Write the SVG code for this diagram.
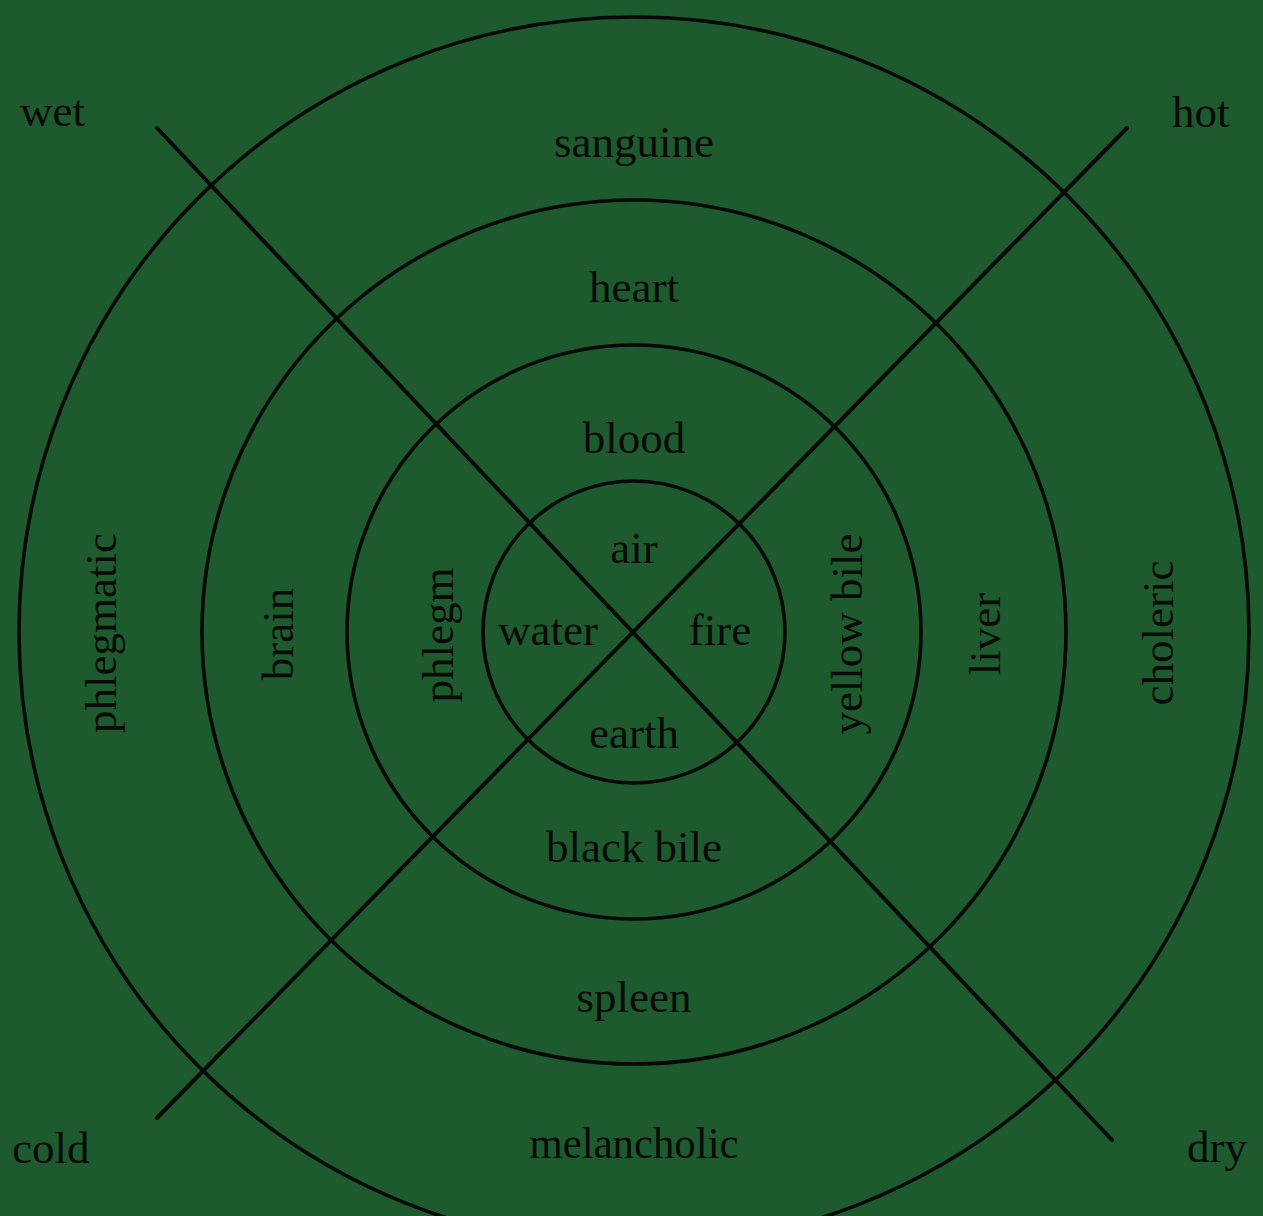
<svg xmlns="http://www.w3.org/2000/svg" width="1263" height="1216" viewBox="0 0 1263 1216">
<style>
.ring{fill:none;stroke:#050805;stroke-width:3.6}
.ln{stroke:#050805;stroke-width:4;stroke-linecap:round}
text{font-family:"Liberation Serif","DejaVu Serif",serif;font-size:45px;fill:#070a07}
.c{text-anchor:middle}
</style>
<rect width="1263" height="1216" fill="#1d5a2d"/>
<g id="rings">
<circle id="ring-outer" class="ring" cx="634" cy="632" r="615"/>
<circle id="ring-organs" class="ring" cx="634" cy="632" r="432"/>
<circle id="ring-humours" class="ring" cx="634" cy="632" r="287"/>
<circle id="ring-elements" class="ring" cx="634" cy="632" r="151"/>
</g>
<g id="connectors">
<line class="ln" x1="157" y1="128" x2="1112" y2="1140"/>
<line class="ln" x1="1127" y1="128" x2="157" y2="1118"/>
</g>
<g id="corners">
<text id="wet" x="20" y="126">wet</text>
<text id="hot" x="1172" y="127">hot</text>
<text id="cold" x="12" y="1163">cold</text>
<text id="dry" x="1187" y="1162">dry</text>
</g>
<g id="temperaments">
<text id="sanguine" class="c" x="634" y="157">sanguine</text>
<text id="melancholic" class="c" x="634" y="1158" textLength="209" lengthAdjust="spacingAndGlyphs">melancholic</text>
<text id="phlegmatic" class="c" transform="translate(116,633) rotate(-90)">phlegmatic</text>
<text id="choleric" class="c" transform="translate(1173,633) rotate(-90)">choleric</text>
</g>
<g id="organs">
<text id="heart" class="c" x="634" y="302">heart</text>
<text id="spleen" class="c" x="634" y="1012">spleen</text>
<text id="brain" class="c" transform="translate(293,634) rotate(-90)">brain</text>
<text id="liver" class="c" transform="translate(1000,634) rotate(-90)">liver</text>
</g>
<g id="humours">
<text id="blood" class="c" x="634" y="453">blood</text>
<text id="black-bile" class="c" x="634" y="862">black bile</text>
<text id="phlegm" class="c" transform="translate(453,635) rotate(-90)">phlegm</text>
<text id="yellow-bile" class="c" transform="translate(862,634) rotate(-90)">yellow bile</text>
</g>
<g id="elements">
<text id="air" class="c" x="634" y="563">air</text>
<text id="water" class="c" x="548" y="645">water</text>
<text id="fire" class="c" x="720" y="645">fire</text>
<text id="earth" class="c" x="634" y="748">earth</text>
</g>
</svg>
